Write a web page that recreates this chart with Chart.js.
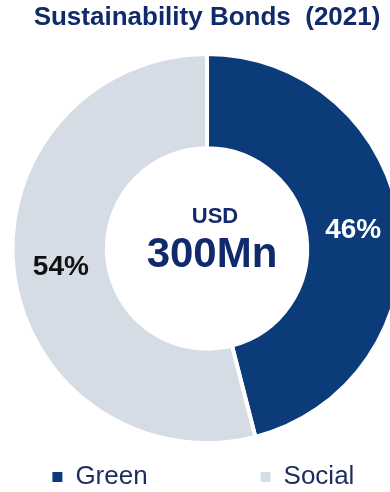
<!DOCTYPE html>
<html>
<head>
<meta charset="utf-8">
<script src="https://cdn.jsdelivr.net/npm/chart.js@4"></script>
<style>
    html, body { margin: 0; padding: 0; background: #fff; overflow: hidden; }
    #wrap { position: relative; width: 414px; height: 500px; }
</style>
</head>
<body>
<div id="wrap"><canvas id="bondsChart" width="414" height="500"></canvas></div>
<script>
// Data
var categories = ['Green', 'Social'];
var shares = [46, 54];
var sliceColors = ['#0b3b79', '#d6dce6'];
var shareLabelColors = ['#ffffff', '#111111'];
var centerLines = ['USD', '300Mn'];
var titleText = 'Sustainability Bonds  (2021)';

var FONT = 'Arial, "Liberation Sans", sans-serif';

// percent labels on the slices + total in the hole
var sliceLabels = {
    id: 'sliceLabels',
    afterDatasetsDraw: function (chart) {
        var ctx = chart.ctx;
        var arcs = chart.getDatasetMeta(0).data;
        ctx.save();
        ctx.textAlign = 'center';
        ctx.textBaseline = 'middle';
        ctx.font = 'bold 28px ' + FONT;
        arcs.forEach(function (arc, i) {
            var pos = arc.tooltipPosition();
            ctx.fillStyle = shareLabelColors[i];
            ctx.fillText(shares[i] + '%', pos.x, pos.y);
        });
        var cx = arcs[0].x, cy = arcs[0].y;
        ctx.fillStyle = '#102a6b';
        ctx.font = 'bold 22px ' + FONT;
        ctx.fillText(centerLines[0], cx + 8, cy - 32);
        ctx.font = 'bold 42px ' + FONT;
        ctx.fillText(centerLines[1], cx + 5, cy + 7);
        ctx.restore();
    }
};

var ctx = document.getElementById('bondsChart').getContext('2d');
new Chart(ctx, {
    type: 'doughnut',
    data: {
        labels: categories,
        datasets: [{
            data: shares,
            backgroundColor: sliceColors,
            borderColor: '#ffffff',
            borderWidth: 4
        }]
    },
    options: {
        responsive: false,
        animation: false,
        cutout: '51.5%',
        layout: { padding: 0 },
        plugins: {
            title: {
                display: true,
                text: titleText,
                color: '#102a6b',
                font: { family: FONT, size: 26, weight: 'bold' },
                padding: { top: 2.5, bottom: 18.3 }
            },
            legend: {
                position: 'bottom',
                labels: {
                    color: '#1b2d5e',
                    font: { family: FONT, size: 26 },
                    boxWidth: 10,
                    boxHeight: 10,
                    padding: 19,
                    // pad the label text so the two entries sit far apart like the original
                    generateLabels: function (chart) {
                        var items = Chart.overrides.doughnut.plugins.legend.labels.generateLabels(chart);
                        items.forEach(function (item, i) {
                            item.lineWidth = 0;
                            item.text += '\u00a0'.repeat(i < items.length - 1 ? 13 : 1);
                        });
                        return items;
                    }
                }
            },
            tooltip: { enabled: false }
        }
    },
    plugins: [sliceLabels]
});
</script>
</body>
</html>
